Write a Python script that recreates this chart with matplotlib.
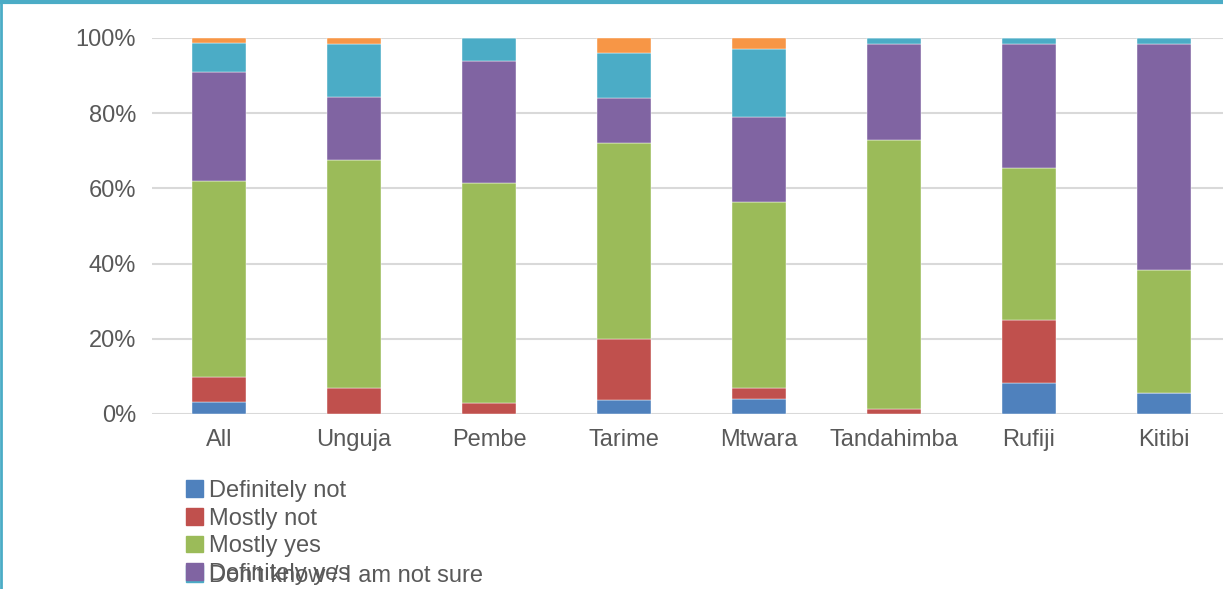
import numpy as np
import matplotlib
matplotlib.use('Agg')
import matplotlib.pyplot as plt
import matplotlib.patches as mpatches
from matplotlib.lines import Line2D

plt.rcParams['font.family'] = ['Liberation Sans', 'DejaVu Sans']

regions = ['All', 'Unguja', 'Pembe', 'Tarime', 'Mtwara', 'Tandahimba', 'Rufiji', 'Kitibi']

definitely_not = [3.2, 0.0, 0.0, 3.8, 4.0, 0.0, 8.3, 5.7]
mostly_not     = [6.6, 7.0, 3.0, 16.2, 3.0, 1.4, 16.7, 0.0]
mostly_yes     = [52.2, 60.5, 58.5, 52.0, 49.3, 71.6, 40.3, 32.5]
definitely_yes = [29.0, 16.8, 32.5, 12.0, 22.7, 25.4, 33.1, 60.2]
not_sure       = [7.7, 14.1, 6.0, 12.0, 18.0, 1.6, 1.6, 1.6]
refused        = [1.3, 1.6, 0.0, 4.0, 3.0, 0.0, 0.0, 0.0]

series = [
    ('Definitely not', definitely_not, '#4f81bd'),
    ('Mostly not', mostly_not, '#c0504d'),
    ('Mostly yes', mostly_yes, '#9bbb59'),
    ('Definitely yes', definitely_yes, '#8064a2'),
    ("Don't know / I am not sure", not_sure, '#4bacc6'),
    ('Refused', refused, '#f79646'),
]

W, H = 1223, 589
fig = plt.figure(figsize=(W / 100, H / 100), dpi=100)
fig.patch.set_facecolor('white')

# axes area in pixel terms, converted to figure fractions
left, right, top, bottom = 151.5, 1231.5, 38, 414
ax = fig.add_axes([left / W, 1 - bottom / H, (right - left) / W, (bottom - top) / H])

x = np.arange(len(regions))
base = np.zeros(len(regions))
for name, vals, col in series:
    vals = np.array(vals)
    ax.bar(x, vals, 0.4, bottom=base, color=col, label=name, zorder=3,
           edgecolor='white', linewidth=0.3)
    base += vals

ax.set_xlim(-0.5, len(regions) - 0.5)
ax.set_ylim(0, 100)
ax.set_yticks(range(0, 101, 20))
ax.set_yticklabels([f'{v}%' for v in range(0, 101, 20)])
ax.set_xticks(x)
ax.set_xticklabels(regions)
ax.tick_params(axis='both', length=0, labelsize=17, colors='#595959')
ax.tick_params(axis='x', pad=11)
ax.tick_params(axis='y', pad=11)
ax.yaxis.grid(True, color='#d9d9d9', linewidth=1.5, zorder=0)
for s in ax.spines.values():
    s.set_visible(False)
ax.set_facecolor('none')

# legend: first four rows, then the last two entries crowding into the fourth row
handles = [mpatches.Patch(color=c, label=n) for n, _, c in series]
leg_kw = dict(frameon=False, fontsize=17, handlelength=0.72, handleheight=0.72,
              handletextpad=0.25, labelspacing=0.24, borderaxespad=0, borderpad=0,
              labelcolor='#595959')
leg2 = fig.legend(handles=handles[4:], loc='upper left',
                  bbox_to_anchor=(186 / W, 1 - 565 / H), **leg_kw)
leg1 = fig.legend(handles=handles[:4], loc='upper left',
                  bbox_to_anchor=(186 / W, 1 - 480 / H), **leg_kw)
leg2.set_zorder(1)
leg1.set_zorder(2)

# outer frame edge on top and left
fig.add_artist(Line2D([0, 1], [1 - 1.5 / H, 1 - 1.5 / H], color='#4bacc6', linewidth=3))
fig.add_artist(Line2D([1 / W, 1 / W], [0, 1], color='#4bacc6', linewidth=2))

fig.savefig('out.png', dpi=100)
